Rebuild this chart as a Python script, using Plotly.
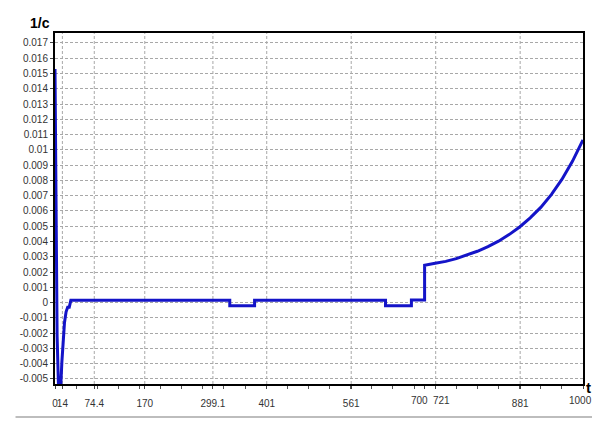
import plotly.graph_objects as go

# ---- data ----
t_values = [0, 2, 4, 7, 10, 13, 16, 18, 21, 24, 27, 30,
            331, 331, 378, 378, 626, 626, 675, 675, 700, 700,
            720, 740, 760, 780, 800, 820, 840, 860, 880, 900, 920, 940, 960, 980, 1000]
inv_c = [0.0153, 0.0037, -0.0022, -0.0060, -0.0062, -0.0039, -0.0019, -0.0013, -0.0006, -0.0003, -0.0003, 0.00015,
         0.00015, -0.0002, -0.0002, 0.00015, 0.00015, -0.0002, -0.0002, 0.00017, 0.00017, 0.00245,
         0.00257, 0.0027, 0.00288, 0.0031, 0.00336, 0.00366, 0.00402, 0.00445, 0.00495, 0.00555, 0.00623, 0.00707,
         0.00806, 0.00925, 0.01065]

x_tick_values = [0, 14, 74.4, 170, 299.1, 401, 561, 700, 721, 881, 1000]
x_tick_labels = ["0", "14", "74.4", "170", "299.1", "401", "561", "700", "721", "881", "1000"]
x_grid_values = [14, 74.4, 170, 299.1, 401, 561, 721, 881]
y_tick_values = [-0.005, -0.004, -0.003, -0.002, -0.001, 0, 0.001, 0.002, 0.003, 0.004, 0.005,
                 0.006, 0.007, 0.008, 0.009, 0.01, 0.011, 0.012, 0.013, 0.014, 0.015, 0.016, 0.017]
y_tick_labels = ["-0.005", "-0.004", "-0.003", "-0.002", "-0.001", "0", "0.001", "0.002", "0.003", "0.004",
                 "0.005", "0.006", "0.007", "0.008", "0.009", "0.01", "0.011", "0.012", "0.013", "0.014",
                 "0.015", "0.016", "0.017"]

# labels that the reference draws nudged sideways (pixels) — drawn as annotations
label_nudge = {"700": -5, "721": 6, "1000": -3}

# page is drawn with an 8px body offset, so compensate in the margins
OFF = 8
W, H = 600 - OFF, 421 - OFF
L, T = 48 - OFF, 33 - OFF
R = W - (583 - OFF)
B = H - (385 - OFF)
pw, ph = W - L - R, H - T - B

fig = go.Figure()
fig.add_trace(go.Scatter(x=t_values, y=inv_c, mode="lines",
                         line=dict(color="#1414c8", width=3), showlegend=False,
                         hoverinfo="skip"))

grid_col = "#a8a8a8"
shapes = []
for gx in x_grid_values:
    shapes.append(dict(type="line", xref="x", yref="paper", x0=gx, x1=gx, y0=0, y1=1,
                       line=dict(color=grid_col, width=1, dash="3px,2px"), layer="below"))
# grey outer frame (right and bottom)
fx = (597 - OFF - L) / pw
fy = ((H - B) - (418 - OFF)) / ph
shapes.append(dict(type="line", xref="paper", yref="paper",
                   x0=fx, x1=fx, y0=fy, y1=(H - B) / ph,
                   line=dict(color="#bdbdbd", width=2), layer="above"))
shapes.append(dict(type="line", xref="paper", yref="paper",
                   x0=-L / pw, x1=fx, y0=fy, y1=fy,
                   line=dict(color="#bdbdbd", width=2), layer="above"))

tick_text = ["" if lab in label_nudge else lab for lab in x_tick_labels]
label_y = ((H - B) - (402 - OFF)) / ph
annotations = [
    dict(text="<b>1/c</b>", xref="paper", yref="paper", x=(33 - OFF - L) / pw, y=1.0,
         xanchor="center", yanchor="bottom", showarrow=False,
         font=dict(size=14, color="black")),
    dict(text="<b>t</b>", xref="paper", yref="paper", x=(589 - OFF - L) / pw, y=-4 / ph,
         xanchor="center", yanchor="middle", showarrow=False,
         font=dict(size=15, color="black")),
]
for v, lab in zip(x_tick_values, x_tick_labels):
    if lab in label_nudge:
        annotations.append(dict(text=lab, xref="x", yref="paper", x=v, y=label_y,
                                xanchor="center", yanchor="middle", xshift=label_nudge[lab],
                                showarrow=False, font=dict(size=10, color="#333")))

fig.update_layout(
    width=W, height=H,
    margin=dict(l=L, r=R, t=T, b=B),
    paper_bgcolor="white", plot_bgcolor="white",
    font=dict(family="Liberation Sans, Arial, sans-serif", size=11, color="#333333"),
    shapes=shapes,
    annotations=annotations,
    xaxis=dict(range=[0, 1000], tickmode="array", tickvals=x_tick_values, ticktext=tick_text,
               tickangle=0, showgrid=False, zeroline=False,
               showline=True, linecolor="black", linewidth=2, mirror=True,
               ticks="outside", ticklen=3, tickcolor="#444", ticklabelstandoff=6,
               tickfont=dict(size=10, color="#333"),
               minor=dict(tickmode="linear", tick0=0, dtick=40, ticks="outside", ticklen=3,
                          tickcolor="#555", showgrid=False)),
    yaxis=dict(range=[-0.00533, 0.01765], tickmode="array", tickvals=y_tick_values, ticktext=y_tick_labels,
               showgrid=True, gridcolor=grid_col, gridwidth=1, griddash="3px,2px",
               zeroline=False, showline=True, linecolor="black", linewidth=2, mirror=True,
               ticks="outside", ticklen=3, tickcolor="#444",
               tickfont=dict(size=10, color="#333")),
)

fig.write_html("out.html")
